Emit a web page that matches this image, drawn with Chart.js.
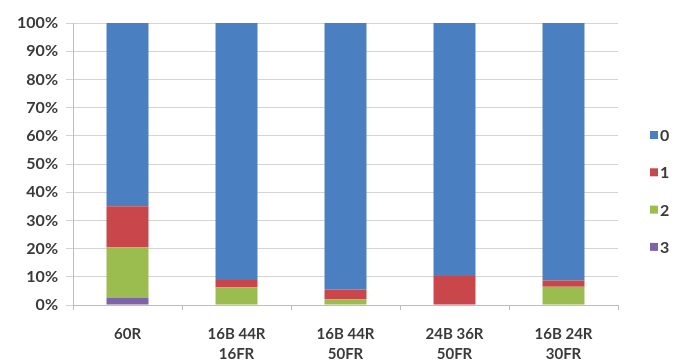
<!DOCTYPE html>
<html>
<head>
<meta charset="utf-8">
<script src="https://cdn.jsdelivr.net/npm/chart.js@4/dist/chart.umd.min.js"></script>
<style>
  html, body { margin: 0; padding: 0; background: #fff; }
  #wrap { width: 677px; height: 361px; position: relative; }
</style>
</head>
<body>
<div id="wrap"><canvas id="stackChart"></canvas></div>
<script>
const categories = [
    ['60R'],
    ['16B 44R', '16FR'],
    ['16B 44R', '50FR'],
    ['24B 36R', '50FR'],
    ['16B 24R', '30FR']
];

// share of each class per configuration (%)
const class0 = [65.0, 91.1, 94.5, 89.7, 91.3];
const class1 = [14.5, 2.6, 3.5, 10.3, 2.2];
const class2 = [18.0, 6.3, 2.0, 0, 6.5];
const class3 = [2.5, 0, 0, 0, 0];

const yTicks = [0, 10, 20, 30, 40, 50, 60, 70, 80, 90, 100];

const textFont = { family: 'Lato', size: 15, weight: 'bold' };
const textColor = '#3a3a3a';

// legend at the right, 0 on top
const sideLegend = {
    id: 'sideLegend',
    afterDraw(chart) {
        const ctx = chart.ctx;
        const sets = chart.data.datasets.slice().reverse();
        ctx.save();
        ctx.font = 'bold 16px Lato';
        ctx.textBaseline = 'middle';
        ctx.textAlign = 'left';
        sets.forEach((ds, i) => {
            const y = 135 + i * 37.3;
            ctx.fillStyle = ds.backgroundColor;
            ctx.fillRect(650, y - 4, 8, 8);
            ctx.fillStyle = textColor;
            ctx.fillText(ds.label, 660, y + 1);
        });
        ctx.restore();
    }
};

new Chart(document.getElementById('stackChart'), {
    type: 'bar',
    data: {
        labels: categories,
        datasets: [
            { label: '3', data: class3, backgroundColor: '#7f63a8' },
            { label: '2', data: class2, backgroundColor: '#9bbd4f' },
            { label: '1', data: class1, backgroundColor: '#c9474a' },
            { label: '0', data: class0, backgroundColor: '#4a7fc1' }
        ]
    },
    options: {
        responsive: true,
        maintainAspectRatio: false,
        animation: false,
        categoryPercentage: 1,
        barPercentage: 0.385,
        layout: {
            padding: { top: 23, right: 59, left: 0, bottom: 0 }
        },
        plugins: {
            legend: { display: false },
            tooltip: { enabled: false }
        },
        scales: {
            x: {
                stacked: true,
                afterFit(scale) { scale.height = 56; },
                grid: {
                    drawOnChartArea: false,
                    tickLength: 5,
                    color: '#bdbdbd'
                },
                border: { color: '#bdbdbd' },
                ticks: {
                    color: textColor,
                    font: { ...textFont, lineHeight: 1.33 },
                    padding: 14,
                    maxRotation: 0
                }
            },
            y: {
                stacked: true,
                min: 0,
                max: 100,
                afterFit(scale) { scale.width = 73; },
                afterBuildTicks(scale) {
                    scale.ticks = yTicks.map(v => ({ value: v }));
                },
                grid: {
                    color: '#d4d4d4',
                    tickLength: 7
                },
                border: { color: '#bdbdbd' },
                ticks: {
                    color: textColor,
                    font: { ...textFont, size: 16 },
                    padding: 8,
                    callback: v => v + '%'
                }
            }
        }
    },
    plugins: [sideLegend]
});
</script>
</body>
</html>
